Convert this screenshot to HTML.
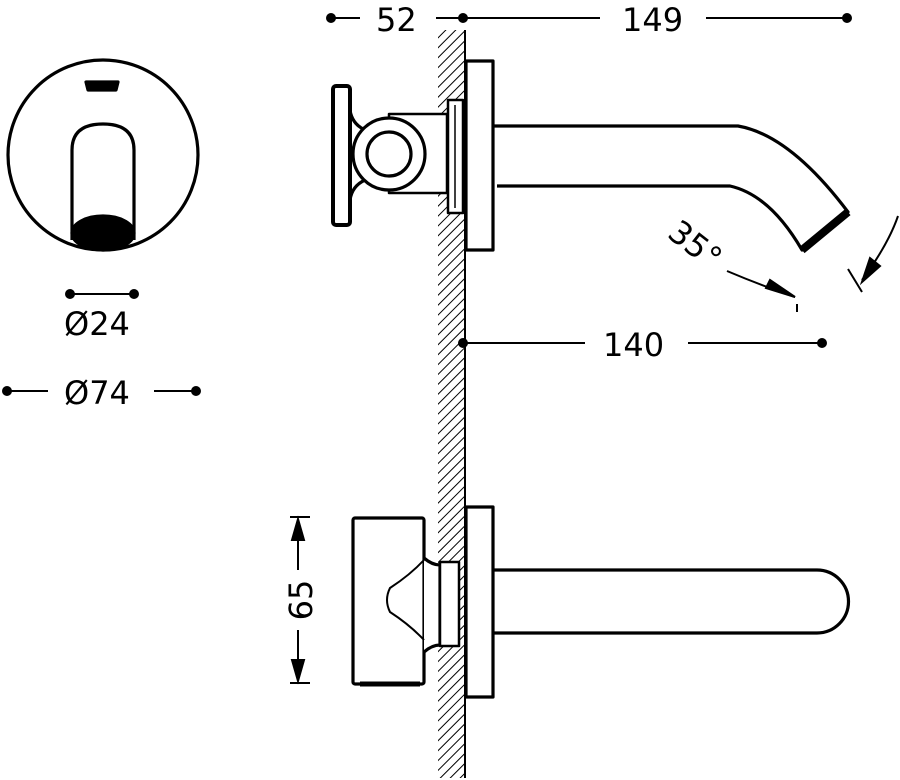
<!DOCTYPE html>
<html><head><meta charset="utf-8"><style>
html,body{margin:0;padding:0;background:#fff;}
svg{display:block;}
text{font-family:"DejaVu Sans","Liberation Sans",sans-serif;fill:#000;}
</style></head><body>
<svg width="900" height="780" viewBox="0 0 900 780" xmlns="http://www.w3.org/2000/svg">
<defs>
<pattern id="h" width="7" height="7" patternUnits="userSpaceOnUse" patternTransform="rotate(45)">
<rect width="7" height="7" fill="#fff"/><line x1="0" y1="0" x2="0" y2="7" stroke="#000" stroke-width="2"/>
</pattern>
</defs>
<!-- wall -->
<rect x="438" y="30" width="27" height="748" fill="url(#h)"/>
<line x1="465" y1="30" x2="465" y2="778" stroke="#000" stroke-width="2"/>

<g fill="none" stroke="#000" stroke-width="3.2" stroke-linejoin="round">
<!-- left circle view -->
<circle cx="103" cy="155" r="95" fill="#fff"/>
<path d="M72 240 V150 Q72 124 103 124 Q134 124 134 150 V240"/>
<ellipse cx="103" cy="233" rx="31" ry="17" fill="#000"/>
<path d="M86 82 H118 L116 90 H88 Z" fill="#000"/>

<!-- top view -->
<rect x="333" y="86" width="17" height="139" rx="3" fill="#fff" stroke-width="4"/>
<path d="M350 110 Q352 124 365 130 M350 200 Q352 186 365 180"/>
<rect x="389" y="114" width="58" height="79" fill="#fff" stroke-width="2.5"/>
<circle cx="389" cy="154" r="36" fill="#fff"/>
<circle cx="389" cy="154" r="22"/>
<rect x="448" y="100" width="15" height="113" fill="#fff" stroke-width="2.5"/>
<line x1="455" y1="105" x2="455" y2="208" stroke-width="1.5"/>
<rect x="466" y="61" width="27" height="189" fill="#fff"/>
<path d="M493 126 H738 Q790 135 848 212 L802 250 Q770 195 730 186 H497"/>
<path d="M802 250 L848 212" stroke-width="8"/>

<!-- bottom view -->
<rect x="353" y="518" width="71" height="166" rx="2" fill="#fff"/>
<path d="M424 558 Q432 565 440 565 V645 Q432 645 424 652" fill="#fff"/>
<path d="M424 560 Q410 575 390 588 Q384 600 390 612 Q410 625 424 640" stroke-width="2"/>
<rect x="440" y="562" width="19" height="84" fill="#fff" stroke-width="2.5"/>
<rect x="466" y="507" width="27" height="190" fill="#fff"/>
<path d="M493 570 H817 A31.5 31.5 0 0 1 817 633 H493"/>
<line x1="360" y1="684" x2="420" y2="684" stroke-width="5"/>
</g>

<!-- dimensions -->
<g stroke="#000" stroke-width="2" fill="#000">
<line x1="330" y1="18" x2="360" y2="18"/><line x1="436" y1="18" x2="600" y2="18"/><line x1="706" y1="18" x2="847" y2="18"/>
<circle cx="331" cy="18" r="4"/><circle cx="463" cy="18" r="4"/><circle cx="847" cy="18" r="4"/>
<line x1="463" y1="343" x2="585" y2="343"/><line x1="688" y1="343" x2="822" y2="343"/>
<circle cx="463" cy="343" r="4"/><circle cx="822" cy="343" r="4"/>
<line x1="70" y1="294" x2="134" y2="294"/><circle cx="70" cy="294" r="4"/><circle cx="134" cy="294" r="4"/>
<line x1="6" y1="391" x2="48" y2="391"/><line x1="154" y1="391" x2="196" y2="391"/>
<circle cx="7" cy="391" r="4"/><circle cx="196" cy="391" r="4"/>
<line x1="290" y1="517" x2="310" y2="517"/><line x1="290" y1="683" x2="310" y2="683"/>
<line x1="298" y1="520" x2="298" y2="570"/><line x1="298" y1="630" x2="298" y2="680"/>
<path d="M298 519 L292 540 L304 540 Z"/><path d="M298 681 L292 660 L304 660 Z"/>
<path d="M727 271 Q760 285 795 297" fill="none"/><path d="M795 297 L766 288 L770 280 Z"/>
<line x1="797" y1="304" x2="797" y2="312"/>
<path d="M898 216 Q888 245 862 280" fill="none"/><path d="M862 282 L870 258 L880 266 Z"/>
<line x1="848" y1="269" x2="862" y2="292"/>
</g>
<g font-size="32">
<text x="376" y="31">52</text>
<text x="622" y="31">149</text>
<text x="603" y="356">140</text>
<text x="64" y="335">Ø24</text>
<text x="64" y="404">Ø74</text>
<text transform="translate(312,600) rotate(-90)" text-anchor="middle">65</text>
<text transform="translate(666,236) rotate(38)">35°</text>
</g>
</svg>
</body></html>
